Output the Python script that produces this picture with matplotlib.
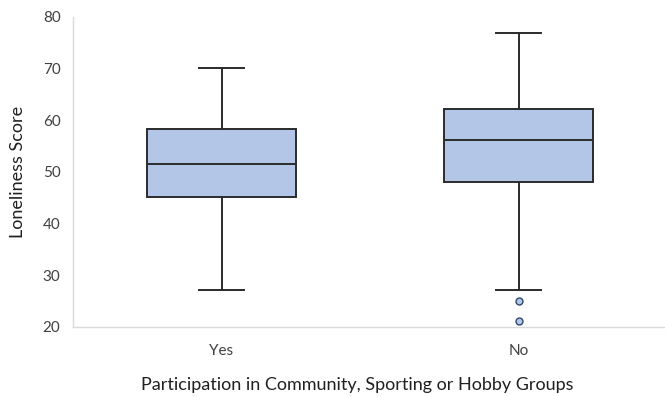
import matplotlib.pyplot as plt

# box statistics
groups = ['Yes', 'No']
whisk_lo = [27.2, 27.2]
q1 = [45.1, 48.0]
median = [51.6, 56.1]
q3 = [58.3, 62.1]
whisk_hi = [70.2, 77.0]
outliers = [[], [25.1, 21.1]]

plt.rcParams['font.family'] = ['Lato', 'DejaVu Sans']

fig = plt.figure(figsize=(6.65, 3.97), dpi=100)
ax = fig.add_axes([73/665, 1-327/397, 594/665, 310/397])

stats = []
for i, g in enumerate(groups):
    stats.append({'label': g, 'whislo': whisk_lo[i], 'q1': q1[i], 'med': median[i],
                  'q3': q3[i], 'whishi': whisk_hi[i], 'fliers': outliers[i]})

edge = '#2b2b2b'
ax.bxp(stats, positions=[0.5, 1.5], widths=0.5, patch_artist=True,
       boxprops=dict(facecolor='#b4c6e7', edgecolor=edge, linewidth=1.4),
       medianprops=dict(color=edge, linewidth=1.4),
       whiskerprops=dict(color=edge, linewidth=1.4),
       capprops=dict(color=edge, linewidth=1.4),
       capwidths=0.15,
       flierprops=dict(marker='o', markersize=5, markerfacecolor='#b4c6e7',
                       markeredgecolor='#2f4a6e', markeredgewidth=1.0))

ax.set_xlim(0, 2)
ax.set_ylim(20, 80)
ax.set_yticks(range(20, 81, 10))
ax.tick_params(length=0, labelsize=11, colors='#404040')
ax.tick_params(axis='y', pad=9)
ax.tick_params(axis='x', pad=12)
for s in ['top', 'right']:
    ax.spines[s].set_visible(False)
for s in ['left', 'bottom']:
    ax.spines[s].set_color('#d9d9d9')
    ax.spines[s].set_linewidth(1.0)

fig.text(18/665, 1-172/397, 'Loneliness Score', rotation=90, fontsize=13,
         color='#202020', ha='center', va='center')
fig.text(357/665, 1-385/397, 'Participation in Community, Sporting or Hobby Groups',
         fontsize=13, color='#202020', ha='center', va='center')
fig.savefig('out.png', dpi=100)
